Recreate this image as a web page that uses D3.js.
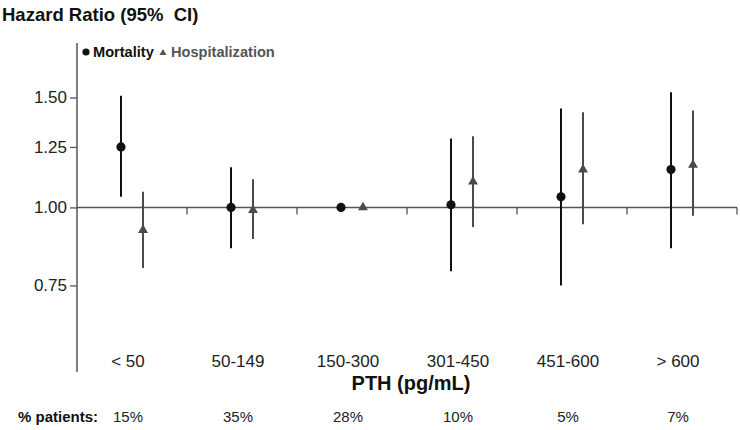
<!DOCTYPE html>
<html>
<head>
<meta charset="utf-8">
<script src="https://cdn.jsdelivr.net/npm/d3@7"></script>
<style>
  html, body { margin: 0; padding: 0; background: #fff; }
  svg { display: block; font-family: "Liberation Sans", Arial, sans-serif; }
</style>
</head>
<body>
<svg id="chart" width="740" height="430"></svg>
<script>
// ---- data ----
const categories = ["< 50", "50-149", "150-300", "301-450", "451-600", "> 600"];
const patientPct = ["15%", "35%", "28%", "10%", "5%", "7%"];
const mortalityHR = [1.25, 1.00, 1.00, 1.01, 1.04, 1.15];
const mortalityLo = [1.04, 0.86, null, 0.79, 0.75, 0.86];
const mortalityHi = [1.51, 1.16, null, 1.29, 1.44, 1.53];
const hospHR = [0.92, 0.99, 1.00, 1.10, 1.15, 1.17];
const hospLo = [0.80, 0.89, null, 0.93, 0.94, 0.97];
const hospHi = [1.06, 1.11, null, 1.30, 1.42, 1.43];
const yTicks = [0.75, 1.00, 1.25, 1.50];

// ---- layout ----
const svg = d3.select("#chart");
const x0 = 77, x1 = 737, yTop = 43, yBot = 372;
const x = d3.scaleBand().domain(categories).range([x0, x1]);
const y = d3.scaleLog().domain([0.545, 1.834]).range([yBot, yTop]);
const off = 11;
const axisColor = "#555";

// title
svg.append("text").attr("x", 2).attr("y", 21)
  .attr("font-size", 18.5).attr("font-weight", "bold").attr("fill", "#111")
  .attr("xml:space", "preserve")
  .text("Hazard Ratio (95%  CI)");

// y axis
const yAxis = d3.axisLeft(y).tickValues(yTicks).tickFormat(d3.format(".2f")).tickSize(7).tickPadding(3);
const gy = svg.append("g").attr("transform", `translate(${x0},0)`).call(yAxis);
gy.select(".domain").remove();
gy.selectAll(".tick line").attr("stroke", axisColor).attr("stroke-width", 1.3);
gy.selectAll(".tick text").attr("font-size", 17).attr("fill", "#222")
  .attr("font-family", "Liberation Sans, Arial, sans-serif");
svg.append("line").attr("x1", x0).attr("x2", x0).attr("y1", yTop).attr("y2", yBot)
  .attr("stroke", axisColor).attr("stroke-width", 1.5);

// reference line at 1.00 with category ticks
const yRef = y(1);
svg.append("line").attr("x1", x0).attr("x2", x1).attr("y1", yRef).attr("y2", yRef)
  .attr("stroke", axisColor).attr("stroke-width", 1.5);
categories.forEach(c => {
  const bx = x(c) + x.bandwidth();
  svg.append("line").attr("x1", bx).attr("x2", bx).attr("y1", yRef).attr("y2", yRef + 7)
    .attr("stroke", axisColor).attr("stroke-width", 1.3);
});

// error bars & markers
function series(vals, lo, hi, dx, color, shape) {
  const g = svg.append("g");
  categories.forEach((c, i) => {
    const cx = x(c) + x.bandwidth() / 2 + dx;
    if (lo[i] != null && hi[i] != null) {
      g.append("line").attr("x1", cx).attr("x2", cx)
        .attr("y1", y(lo[i])).attr("y2", y(hi[i]))
        .attr("stroke", color).attr("stroke-width", 2);
    }
    if (shape === "circle") {
      g.append("circle").attr("cx", cx).attr("cy", y(vals[i])).attr("r", 4.6).attr("fill", color);
    } else {
      g.append("path").attr("d", d3.symbol(d3.symbolTriangle, 42)())
        .attr("transform", `translate(${cx},${y(vals[i])})`).attr("fill", color);
    }
  });
}
series(mortalityHR, mortalityLo, mortalityHi, -off, "#111", "circle");
series(hospHR, hospLo, hospHi, off, "#4a4a4a", "triangle");

// legend
svg.append("circle").attr("cx", 86).attr("cy", 52).attr("r", 3.6).attr("fill", "#111");
svg.append("text").attr("x", 93).attr("y", 57).attr("font-size", 14.6).attr("font-weight", "bold")
  .attr("fill", "#111").text("Mortality");
svg.append("path").attr("d", d3.symbol(d3.symbolTriangle, 22)())
  .attr("transform", "translate(163,53)").attr("fill", "#555");
svg.append("text").attr("x", 171).attr("y", 57).attr("font-size", 14.6).attr("font-weight", "bold")
  .attr("fill", "#555").text("Hospitalization");

// category labels
svg.append("g").selectAll("text").data(categories).join("text")
  .attr("x", d => x(d) + x.bandwidth() / 2 - 4)
  .attr("y", 367).attr("text-anchor", "middle").attr("font-size", 17).attr("fill", "#222")
  .text(d => d);

// x title
svg.append("text").attr("x", 411).attr("y", 390).attr("text-anchor", "middle")
  .attr("font-size", 20).attr("font-weight", "bold").attr("fill", "#111").text("PTH (pg/mL)");

// % patients row
svg.append("text").attr("x", 18).attr("y", 422).attr("font-size", 15).attr("font-weight", "bold")
  .attr("fill", "#111").text("% patients:");
svg.append("g").selectAll("text").data(patientPct).join("text")
  .attr("x", (d, i) => x(categories[i]) + x.bandwidth() / 2 - 4)
  .attr("y", 422).attr("text-anchor", "middle").attr("font-size", 15).attr("fill", "#222")
  .text(d => d);
</script>
</body>
</html>
